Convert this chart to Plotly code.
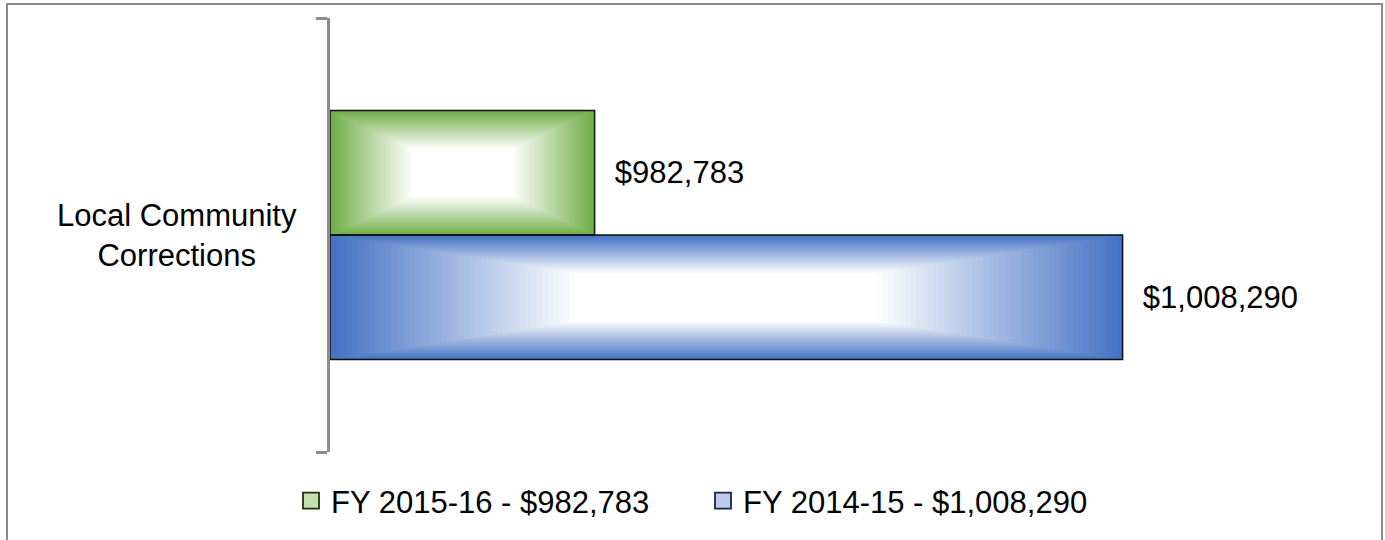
import numpy as np
import plotly.graph_objects as go

# ---- data ----
categories = ["Local Community Corrections"]
category_label = ["Local Community<br>Corrections"]
series_names = ["FY 2015-16 - $982,783", "FY 2014-15 - $1,008,290"]
values_fy1516 = [982783]
values_fy1415 = [1008290]
data_labels_fy1516 = ["$982,783"]
data_labels_fy1415 = ["$1,008,290"]

# ---- style ----
FONT = "Liberation Sans, Arial, sans-serif"
FS = 31
XMIN, XMAX = 970000, 1020000
SLOT = 0.287          # bar thickness in category units
N_STEPS = 45
WHITE_S = 0.38        # scale at which the path gradient reaches white
GREEN = (112, 173, 71)
BLUE = (68, 114, 196)


def mix(c, t):
    r, g, b = [int(round(ci * (1 - t) + 255 * t)) for ci in c]
    return f"rgb({r},{g},{b})"


fig = go.Figure()


def gradient_bar(values, color, center_off):
    L = np.array(values, dtype=float) - XMIN
    for s in np.linspace(1.0, WHITE_S, N_STEPS):
        t = min(1.0, (1 - s) / (1 - WHITE_S))
        w = SLOT * s
        fig.add_trace(go.Bar(
            orientation="h",
            y=categories,
            x=list(L * s),
            base=list(XMIN + (1 - s) / 2 * L),
            width=w,
            offset=center_off - w / 2,
            marker=dict(color=mix(color, t), line=dict(width=0)),
            showlegend=False,
            hoverinfo="skip",
        ))


def outline_bar(values, labels, offset):
    L = np.array(values, dtype=float) - XMIN
    fig.add_trace(go.Bar(
        orientation="h",
        y=categories,
        x=list(L),
        base=[XMIN] * len(values),
        width=SLOT,
        offset=offset,
        marker=dict(color="rgba(0,0,0,0)", line=dict(color="#111111", width=1.5)),
        text=["\u00a0\u00a0" + l for l in labels],
        textposition="outside",
        textfont=dict(family=FONT, size=FS, color="#000000"),
        cliponaxis=False,
        showlegend=False,
        hoverinfo="skip",
    ))


# blue (FY 2014-15) lower, green (FY 2015-16) upper
gradient_bar(values_fy1415, BLUE, -SLOT / 2)
gradient_bar(values_fy1516, GREEN, SLOT / 2)
outline_bar(values_fy1415, data_labels_fy1415, -SLOT)
outline_bar(values_fy1516, data_labels_fy1516, 0)

# legend entries
fig.add_trace(go.Scatter(
    x=[None], y=[None], mode="markers", name=series_names[0], legendrank=1,
    marker=dict(symbol="square", size=16, color="#c4dfb0",
                line=dict(color="#1e3212", width=1.8)),
))
fig.add_trace(go.Scatter(
    x=[None], y=[None], mode="markers", name=series_names[1], legendrank=2,
    marker=dict(symbol="square", size=16, color="#bccbeb",
                line=dict(color="#14264a", width=1.8)),
))

L_MARGIN, R_MARGIN, T_MARGIN, B_MARGIN = 330, 20, 18, 88
W, H = 1385, 540
PW = W - L_MARGIN - R_MARGIN
PH = H - T_MARGIN - B_MARGIN


def px_to_paper_x(px):
    return (px - L_MARGIN) / PW


def px_to_paper_y(py):
    return (H - B_MARGIN - py) / PH


fig.update_layout(
    width=W, height=H,
    margin=dict(l=L_MARGIN, r=R_MARGIN, t=T_MARGIN, b=B_MARGIN),
    paper_bgcolor="white", plot_bgcolor="white",
    barmode="overlay",
    font=dict(family=FONT, size=FS, color="#000000"),
    xaxis=dict(range=[XMIN, XMAX], visible=False, fixedrange=True),
    yaxis=dict(
        type="category", range=[-0.5, 0.5],
        showline=True, linecolor="#8c8c8c", linewidth=3,
        ticks="outside", tickson="boundaries", ticklen=11,
        tickcolor="#8c8c8c", tickwidth=3,
        showticklabels=False, showgrid=False, zeroline=False,
    ),
    legend=dict(
        orientation="h", x=px_to_paper_x(703), xanchor="center",
        y=px_to_paper_y(501), yanchor="middle",
        font=dict(family=FONT, size=FS, color="#000000"),
        bgcolor="rgba(0,0,0,0)",
        entrywidth=367, entrywidthmode="pixels",
    ),
    annotations=[dict(
        text=category_label[0], xref="paper", yref="y",
        x=px_to_paper_x(177), y=categories[0], xanchor="center", yanchor="middle",
        align="center", showarrow=False,
        font=dict(family=FONT, size=FS, color="#000000"),
    )],
    shapes=[dict(
        type="rect", xref="paper", yref="paper",
        x0=px_to_paper_x(7), x1=px_to_paper_x(1382),
        y0=px_to_paper_y(546), y1=px_to_paper_y(4),
        line=dict(color="#8a8a8a", width=2), fillcolor="rgba(0,0,0,0)",
        layer="above",
    )],
)

fig.write_html("out.html", config={"displayModeBar": False},
               post_script="document.body.style.margin='0';")
